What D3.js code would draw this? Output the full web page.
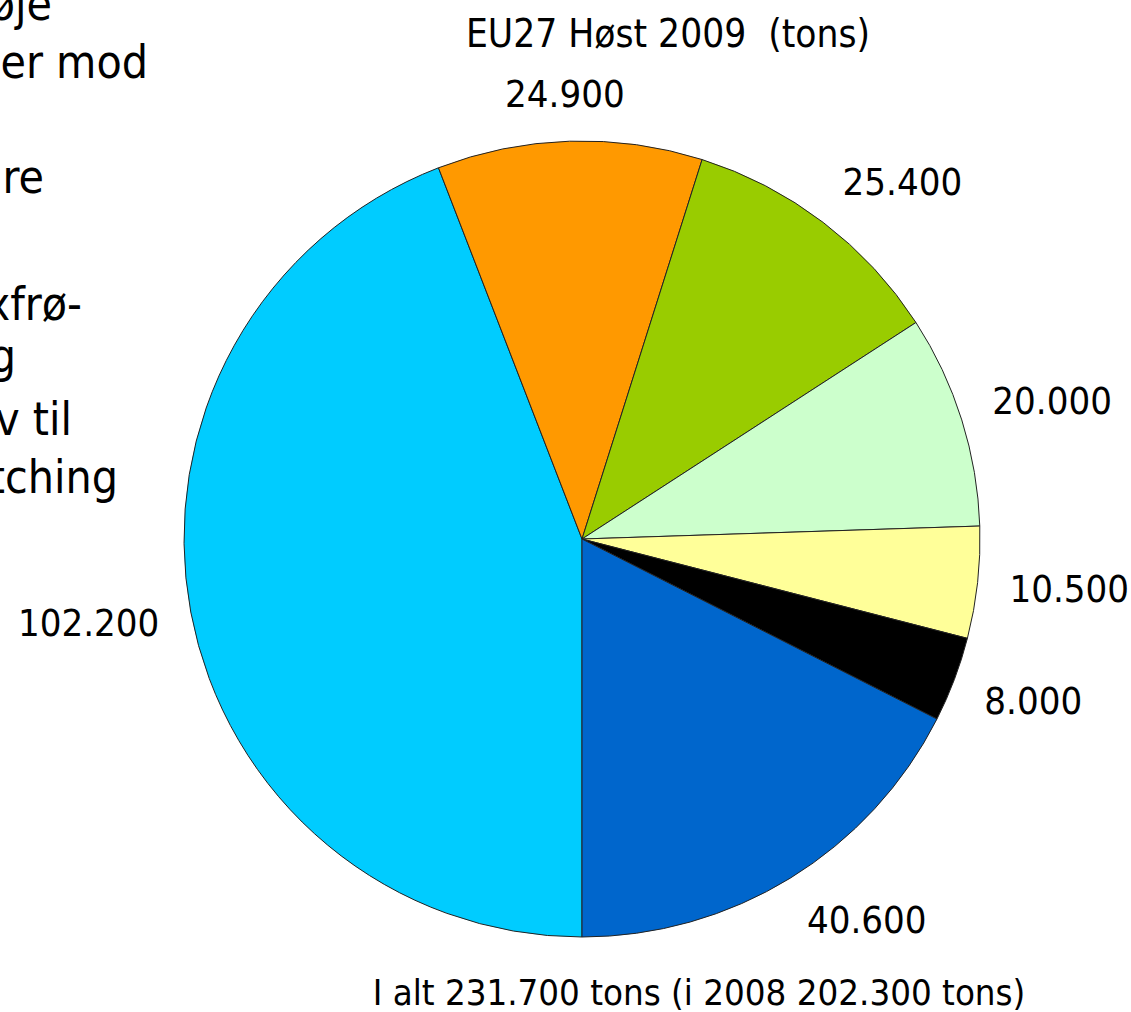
<!DOCTYPE html>
<html>
<head>
  <meta charset="utf-8">
  <script src="https://d3js.org/d3.v7.min.js"></script>
  <style>
    body { margin: 0; background: #fff; }
    text { font-family: "DejaVu Sans Condensed", "DejaVu Sans", sans-serif; fill: #000; }
  </style>
</head>
<body>
  <svg id="pie" width="1131" height="1012"></svg>
  <script>
    // slice values in thousand tons, clockwise from 6 o'clock
    const values = [102.2, 24.9, 25.4, 20.0, 10.5, 8.0, 40.6];
    const labels = ["102.200", "24.900", "25.400", "20.000", "10.500", "8.000", "40.600"];
    const colors = ["#00CCFF", "#FF9900", "#99CC00", "#CCFFCC", "#FFFF99", "#000000", "#0066CC"];

    // leftover text of the slide, cut off at the left edge
    const sideLines = ["øje", "er mod", "re", "xfrø-", "g", "v til", "tching"];
    const sideEnds = [52, 148, 44, 82, 16, 72, 118];
    const sideBase = [20, 78, 193, 320, 372, 435, 493];

    const svg = d3.select("svg#pie");
    const cx = 582, cy = 539, radius = 398;

    // side text
    svg.append("g").selectAll("text")
      .data(sideLines)
      .join("text")
      .attr("x", (d, i) => sideEnds[i])
      .attr("y", (d, i) => sideBase[i])
      .attr("text-anchor", "end")
      .style("font-size", "46px")
      .text(d => d);

    // title
    svg.append("text")
      .attr("x", 668).attr("y", 47)
      .attr("text-anchor", "middle")
      .style("font-size", "38.5px")
      .style("white-space", "pre")
      .text("EU27 Høst 2009  (tons)");

    const pie = d3.pie().sort(null)
      .startAngle(Math.PI).endAngle(3 * Math.PI);
    const arc = d3.arc().innerRadius(0).outerRadius(radius);
    const arcs = pie(values);

    const chart = svg.append("g").attr("transform", `translate(${cx},${cy})`);

    chart.selectAll("path")
      .data(arcs)
      .join("path")
      .attr("d", arc)
      .attr("fill", (d, i) => colors[i])
      .attr("stroke", "#222")
      .attr("stroke-width", 1);

    // labels: nearest corner of each label box sits on a ring outside the pie
    const ring = radius + 32;
    const clamp = v => Math.max(-1, Math.min(1, v));
    chart.selectAll("text.lbl")
      .data(arcs)
      .join("text")
      .attr("class", "lbl")
      .attr("text-anchor", "middle")
      .attr("dominant-baseline", "central")
      .style("font-size", "38px")
      .text((d, i) => labels[i])
      .each(function (d) {
        const hw = this.getBBox().width / 2, hh = 15;
        const a = (d.startAngle + d.endAngle) / 2;
        const s = Math.sin(a), c = Math.cos(a);
        const x = ring * s + hw * clamp(2 * s);
        const y = -ring * c - hh * clamp(2 * c);
        d3.select(this).attr("x", x).attr("y", y);
      });

    // total note
    svg.append("text")
      .attr("x", 699).attr("y", 1005)
      .attr("text-anchor", "middle")
      .style("font-size", "36.3px")
      .text("I alt 231.700 tons (i 2008 202.300 tons)");
  </script>
</body>
</html>
